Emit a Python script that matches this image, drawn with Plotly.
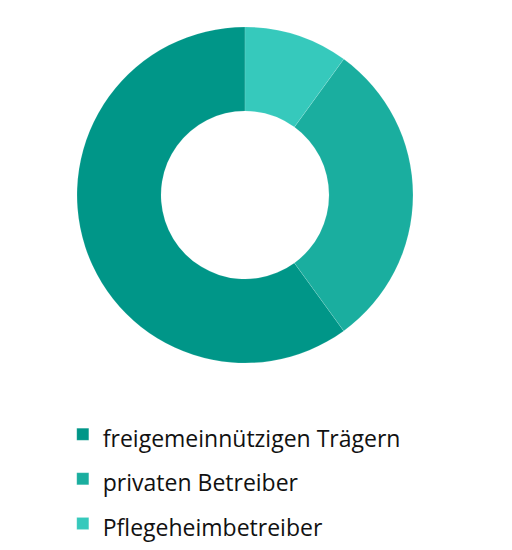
import plotly.graph_objects as go

labels = ["freigemeinnützigen Trägern", "privaten Betreiber", "Pflegeheimbetreiber"]
values = [60, 30, 10]
colors = ["#009688", "#1aae9f", "#36c9bc"]

legend_labels = ['<span style="font-size:23px">%s</span>' % s for s in labels]

fig = go.Figure(go.Pie(
    labels=legend_labels,
    values=values,
    hole=0.5,
    sort=False,
    direction="counterclockwise",
    rotation=144,
    textinfo="none",
    hoverinfo="percent",
    marker=dict(colors=colors, line=dict(color="rgba(255,255,255,0.25)", width=0.5)),
    domain=dict(x=[0.1348, 0.791], y=[0.3545, 0.9655]),
))

fig.update_layout(
    width=512, height=550,
    margin=dict(l=0, r=0, t=0, b=0),
    paper_bgcolor="white",
    font=dict(family="Open Sans", size=32, color="#111111"),
    showlegend=True,
    legend=dict(x=0.107, y=0.2747, xanchor="left", yanchor="top", orientation="v"),
)

fig.write_html("out.html")
